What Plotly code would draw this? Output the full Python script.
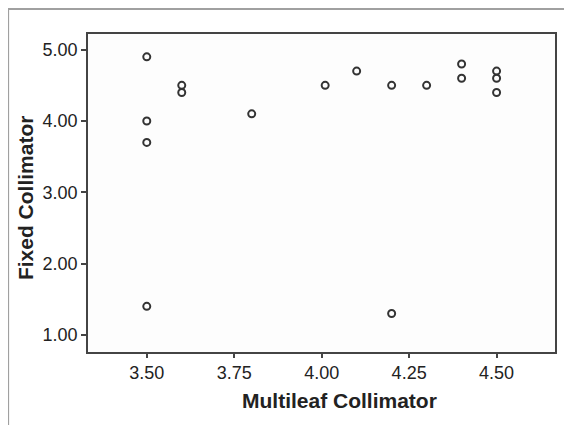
import plotly.graph_objs as go

multileaf = [3.50, 3.50, 3.50, 3.50, 3.60, 3.60, 3.80, 4.01, 4.10, 4.20,
             4.20, 4.30, 4.40, 4.40, 4.50, 4.50, 4.50]
fixed = [4.90, 4.00, 3.70, 1.40, 4.50, 4.40, 4.10, 4.50, 4.70, 4.50,
         1.30, 4.50, 4.80, 4.60, 4.70, 4.60, 4.40]

x_ticks = [3.50, 3.75, 4.00, 4.25, 4.50]
y_ticks = [1.00, 2.00, 3.00, 4.00, 5.00]

fig = go.Figure()

fig.add_trace(
    go.Scatter(
        x=multileaf,
        y=fixed,
        mode='markers',
        marker=dict(symbol='circle-open', size=7, color='#333333',
                    line=dict(width=2, color='#333333')),
        showlegend=False
    )
)

axis_font = dict(family='Liberation Sans, Arial, sans-serif', size=18, color='#222222')

# Seite hat 8px Body-Rand -> Figur um 8px kleiner
fig.update_layout(
    width=564,
    height=417,
    margin=dict(l=80, r=17, t=26, b=73),
    paper_bgcolor='white',
    plot_bgcolor='#fdfdfd',
    xaxis=dict(
        range=[3.332, 4.667],
        tickvals=x_ticks,
        ticktext=[f'{v:.2f}' for v in x_ticks],
        showgrid=False, zeroline=False,
        showline=True, mirror=True, linecolor='#444444', linewidth=1.5,
        ticks='outside', ticklen=4, tickcolor='#444444', tickwidth=1.5,
        tickfont=axis_font
    ),
    yaxis=dict(
        range=[0.76, 5.22],
        tickvals=y_ticks,
        ticktext=[f'{v:.2f}' for v in y_ticks],
        showgrid=False, zeroline=False,
        showline=True, mirror=True, linecolor='#444444', linewidth=1.5,
        ticks='outside', ticklen=5, tickcolor='#444444', tickwidth=1.5,
        tickfont=axis_font
    )
)

title_font = dict(family='Liberation Sans, Arial, sans-serif', size=21, color='#222222')

# Achsentitel
fig.add_annotation(text='<b>Multileaf Collimator</b>', xref='paper', yref='paper',
                   x=0.5375, y=-0.151, showarrow=False, font=title_font,
                   xanchor='center', yanchor='middle')
fig.add_annotation(text='<b>Fixed Collimator</b>', xref='paper', yref='paper',
                   x=-0.1349, y=0.484, showarrow=False, font=title_font,
                   textangle=-90, xanchor='center', yanchor='middle')

# grauer Rahmen (oben und links)
fig.add_shape(type='path', xref='paper', yref='paper',
              path='M -0.1713,-0.25 L -0.1713,1.0786 L 1.04,1.0786',
              line=dict(color='#a0a0a0', width=2.2))

fig.write_html("out.html")
